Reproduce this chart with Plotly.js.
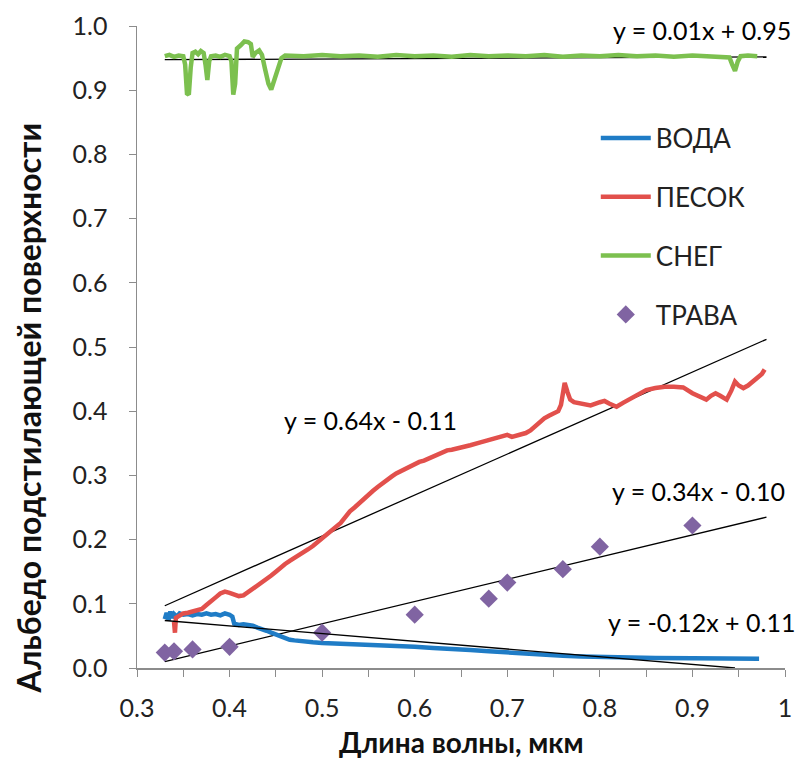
<!DOCTYPE html>
<html>
<head>
<meta charset="utf-8">
<script src="https://cdn.plot.ly/plotly-3.0.1.min.js"></script>
<style>html,body{margin:0;padding:0;background:#fff;}</style>
</head>
<body>
<div id="chart" style="width:810px;height:760px;"></div>
<script>
// ---- Data ----
var waterX = [0.330,0.332,0.334,0.336,0.338,0.340,0.343,0.346,0.350,0.355,0.360,0.365,0.370,0.375,0.380,0.385,0.390,0.395,0.400,0.403,0.405,0.410,0.415,0.420,0.425,0.430,0.435,0.440,0.445,0.450,0.455,0.460,0.465,0.470,0.480,0.490,0.500,0.520,0.540,0.560,0.580,0.600,0.620,0.640,0.660,0.680,0.700,0.720,0.740,0.760,0.780,0.800,0.830,0.860,0.900,0.940,0.972];
var waterY = [0.076,0.086,0.074,0.088,0.078,0.084,0.080,0.085,0.083,0.084,0.082,0.084,0.083,0.085,0.083,0.084,0.082,0.085,0.083,0.080,0.069,0.067,0.068,0.067,0.066,0.063,0.061,0.058,0.055,0.052,0.049,0.046,0.044,0.043,0.041,0.040,0.039,0.038,0.037,0.035,0.034,0.033,0.031,0.030,0.028,0.026,0.024,0.023,0.021,0.019,0.018,0.017,0.016,0.0155,0.015,0.015,0.0145];

var sandX = [0.340,0.341,0.342,0.345,0.350,0.355,0.360,0.365,0.370,0.375,0.380,0.385,0.390,0.395,0.400,0.405,0.410,0.415,0.420,0.425,0.430,0.435,0.440,0.445,0.450,0.455,0.460,0.465,0.470,0.475,0.480,0.485,0.490,0.495,0.500,0.505,0.510,0.515,0.520,0.525,0.530,0.535,0.540,0.545,0.550,0.555,0.560,0.565,0.570,0.575,0.580,0.585,0.590,0.595,0.600,0.605,0.610,0.615,0.620,0.625,0.630,0.635,0.640,0.650,0.660,0.670,0.680,0.690,0.700,0.705,0.710,0.720,0.725,0.730,0.735,0.740,0.745,0.750,0.755,0.758,0.762,0.765,0.768,0.772,0.780,0.790,0.800,0.805,0.810,0.818,0.825,0.833,0.840,0.850,0.860,0.870,0.880,0.890,0.900,0.905,0.910,0.915,0.920,0.925,0.930,0.937,0.942,0.946,0.950,0.955,0.960,0.965,0.970,0.975,0.978];
var sandY = [0.072,0.055,0.078,0.080,0.085,0.086,0.088,0.090,0.092,0.098,0.105,0.110,0.116,0.119,0.117,0.115,0.112,0.113,0.118,0.122,0.127,0.132,0.138,0.144,0.150,0.157,0.162,0.167,0.171,0.176,0.181,0.185,0.190,0.196,0.201,0.207,0.213,0.219,0.226,0.235,0.244,0.250,0.257,0.262,0.269,0.276,0.282,0.288,0.293,0.298,0.303,0.307,0.310,0.314,0.318,0.321,0.323,0.326,0.329,0.333,0.336,0.339,0.340,0.343,0.347,0.351,0.355,0.359,0.363,0.360,0.362,0.366,0.370,0.377,0.382,0.389,0.393,0.397,0.400,0.410,0.444,0.430,0.418,0.414,0.412,0.409,0.414,0.416,0.412,0.407,0.413,0.420,0.425,0.433,0.436,0.438,0.438,0.437,0.428,0.424,0.421,0.418,0.424,0.428,0.424,0.418,0.432,0.446,0.440,0.436,0.440,0.446,0.452,0.458,0.465];

var snowX = [0.330,0.335,0.340,0.345,0.350,0.352,0.354,0.356,0.358,0.360,0.363,0.366,0.369,0.372,0.374,0.376,0.378,0.380,0.385,0.390,0.395,0.400,0.402,0.404,0.406,0.408,0.412,0.416,0.420,0.423,0.425,0.428,0.432,0.435,0.438,0.442,0.445,0.448,0.452,0.456,0.460,0.480,0.500,0.520,0.540,0.560,0.580,0.600,0.620,0.640,0.660,0.680,0.700,0.720,0.740,0.760,0.780,0.800,0.820,0.840,0.860,0.880,0.900,0.920,0.940,0.943,0.946,0.949,0.952,0.960,0.970];
var snowY = [0.953,0.955,0.952,0.954,0.953,0.940,0.895,0.893,0.935,0.958,0.960,0.956,0.961,0.958,0.940,0.916,0.945,0.953,0.954,0.952,0.955,0.953,0.945,0.893,0.910,0.965,0.970,0.976,0.975,0.972,0.952,0.958,0.962,0.955,0.935,0.910,0.901,0.915,0.935,0.950,0.954,0.953,0.955,0.953,0.954,0.952,0.955,0.953,0.954,0.952,0.955,0.953,0.954,0.953,0.955,0.952,0.954,0.953,0.955,0.953,0.954,0.952,0.954,0.953,0.951,0.940,0.930,0.945,0.953,0.954,0.953];

var grassX = [0.33,0.34,0.36,0.40,0.50,0.60,0.68,0.70,0.76,0.80,0.90];
var grassY = [0.024,0.026,0.029,0.033,0.055,0.083,0.108,0.133,0.154,0.189,0.222];

// trendline end points
var trendX = [0.33, 0.98];
var waterTrendX = [0.33, 0.946];
var waterTrendY = [0.074, 0.0];
var sandTrendY = [0.097, 0.512];
var snowTrendY = [0.9475, 0.952];
var grassTrendY = [0.010, 0.235];

var seriesNames = ['ВОДА', 'ПЕСОК', 'СНЕГ', 'ТРАВА'];
var eqTexts = ['y = 0.01x + 0.95', 'y = 0.64x - 0.11', 'y = 0.34x - 0.10', 'y = -0.12x + 0.11'];
var xTickVals = [0.3,0.4,0.5,0.6,0.7,0.8,0.9,1.0];
var xTickText = ['0.3','0.4','0.5','0.6','0.7','0.8','0.9','1'];

var FONT = 'Lato, "Open Sans", sans-serif';
var colors = {water:'#1f7cc6', sand:'#e2504c', snow:'#7cc04f', grass:'#8064a2'};

var trendStyle = {color:'#000000', width:1.3};
var traces = [
  {x:trendX, y:snowTrendY, mode:'lines', line:trendStyle, showlegend:false, hoverinfo:'skip'},
  {x:trendX, y:sandTrendY, mode:'lines', line:trendStyle, showlegend:false, hoverinfo:'skip'},
  {x:trendX, y:grassTrendY, mode:'lines', line:trendStyle, showlegend:false, hoverinfo:'skip'},
  {x:waterX, y:waterY, name:seriesNames[0], mode:'lines', line:{color:colors.water, width:4.5}, legendgroup:'a'},
  {x:sandX, y:sandY, name:seriesNames[1], mode:'lines', line:{color:colors.sand, width:4.5}, legendgroup:'b'},
  {x:snowX, y:snowY, name:seriesNames[2], mode:'lines', line:{color:colors.snow, width:4.5}, legendgroup:'c'},
  {x:grassX, y:grassY, name:seriesNames[3], mode:'markers', marker:{symbol:'diamond', size:14, color:colors.grass}, legendgroup:'d'},
  {x:waterTrendX, y:waterTrendY, mode:'lines', line:trendStyle, showlegend:false, hoverinfo:'skip'}
];

var eqFont = {family:FONT, size:25, color:'#000'};
var layout = {
  width:810, height:760,
  margin:{l:137, r:25, t:26, b:92, pad:0},
  paper_bgcolor:'#fff', plot_bgcolor:'#fff',
  font:{family:FONT, size:25, color:'#222'},
  showlegend:true,
  legend:{x:0.708, y:0.862, xanchor:'left', yanchor:'top', bgcolor:'rgba(0,0,0,0)',
          font:{family:FONT, size:26, color:'#222'}, tracegroupgap:22, itemwidth:50},
  xaxis:{range:[0.3,1.0], tickvals:xTickVals, ticktext:xTickText, showgrid:false, zeroline:false,
         showline:true, linecolor:'#8c8c8c', linewidth:1.5, ticks:'outside', ticklen:7, tickcolor:'#8c8c8c',
         ticklabelstandoff:10,
         minor:{dtick:0.05, ticks:'outside', ticklen:7, tickcolor:'#8c8c8c', showgrid:false},
         tickfont:{family:FONT, size:25, color:'#222'}},
  yaxis:{range:[0,1.0], dtick:0.1, tickformat:'.1f', showgrid:false, zeroline:false,
         showline:true, linecolor:'#8c8c8c', linewidth:1.5, ticks:'outside', ticklen:7, tickcolor:'#8c8c8c',
         ticklabelstandoff:16,
         tickfont:{family:FONT, size:25, color:'#222'}},
  annotations:[
    {xref:'x', yref:'y', x:0.910, y:0.993, text:eqTexts[0], showarrow:false, font:eqFont, xanchor:'center', yanchor:'middle'},
    {xref:'x', yref:'y', x:0.552, y:0.386, text:eqTexts[1], showarrow:false, font:eqFont, xanchor:'center', yanchor:'middle'},
    {xref:'x', yref:'y', x:0.907, y:0.275, text:eqTexts[2], showarrow:false, font:eqFont, xanchor:'center', yanchor:'middle'},
    {xref:'x', yref:'y', x:0.910, y:0.071, text:eqTexts[3], showarrow:false, font:eqFont, xanchor:'center', yanchor:'middle'},
    {xref:'paper', yref:'paper', x:-0.166, y:0.405, text:'<b>Альбедо подстилающей поверхности</b>', textangle:-90,
     xanchor:'center', yanchor:'middle', showarrow:false, font:{family:FONT, size:32, color:'#111'}},
    {xref:'paper', yref:'paper', x:0.5, y:-0.116, text:'<b>Длина волны, мкм</b>',
     xanchor:'center', yanchor:'middle', showarrow:false, font:{family:FONT, size:28, color:'#111'}}
  ]
};

Plotly.newPlot('chart', traces, layout, {displayModeBar:false, staticPlot:true});
</script>
</body>
</html>
